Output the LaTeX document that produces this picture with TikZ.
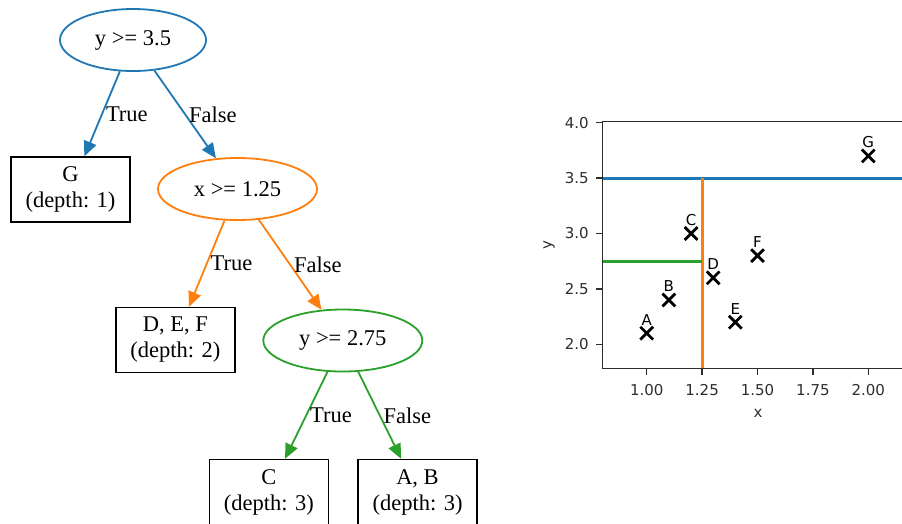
\documentclass[tikz,border=0pt]{standalone}
\usepackage{fontspec}
\setmainfont{Liberation Serif}
\newfontfamily\plotfont{DejaVu Sans}
\usepackage{tikz}
\usetikzlibrary{arrows.meta,shapes.geometric,shapes.misc}
\definecolor{splitblue}{RGB}{31,119,180}
\definecolor{splitorange}{RGB}{255,127,14}
\definecolor{splitgreen}{RGB}{44,160,44}
\definecolor{spine}{RGB}{45,45,45}

\begin{document}
\begin{tikzpicture}[x=1pt,y=-1pt,
  every node/.style={font=\fontsize{22.5}{26}\selectfont},
  test/.style={ellipse,draw,line width=1.8pt,inner sep=0pt,minimum width=159pt,minimum height=62pt},
  leaf/.style={draw=black,line width=1.4pt,align=center,inner sep=0pt,minimum width=119pt,minimum height=65pt},
  ar/.style={-{Triangle[length=15pt,width=13pt]},line width=1.8pt},
  lbl/.style={right,pos=0.5,inner sep=3pt,text=black},
  ticklab/.style={font=\plotfont\fontsize{15}{18}\selectfont,inner sep=0pt,text=spine},
  xmark/.style={cross out,draw=black,line width=2.8pt,minimum size=10pt,inner sep=0pt},
  split/.style={line width=3pt}]
\useasboundingbox (0,0) rectangle (902,523);
% decision tree
\node[test,draw=splitblue,minimum width=146pt] (n-root) at (133,40) {y >= 3.5};
\node[leaf] (n-g) at (70.5,189.5) {G\\(depth: 1)};
\node[test,draw=splitorange] (n-x) at (237.5,189) {x >= 1.25};
\node[leaf] (n-def) at (175.3,340) {D, E, F\\(depth: 2)};
\node[test,draw=splitgreen] (n-y) at (342.8,340.5) {y >= 2.75};
\node[leaf] (n-c) at (268.8,492) {C\\(depth: 3)};
\node[leaf] (n-ab) at (417.5,492) {A, B\\(depth: 3)};
\draw[ar,draw=splitblue] (n-root) -- node[lbl]{True} (n-g);
\draw[ar,draw=splitblue] (n-root) -- node[lbl]{False} (n-x);
\draw[ar,draw=splitorange] (n-x) -- node[lbl]{True} (n-def);
\draw[ar,draw=splitorange] (n-x) -- node[lbl]{False} (n-y);
\draw[ar,draw=splitgreen] (n-y) -- node[lbl]{True} (n-c);
\draw[ar,draw=splitgreen] (n-y) -- node[lbl]{False} (n-ab);
% scatter plot with the splits
\begin{scope}[shift={(425.1,565.9)},x=221.6pt,y=110.8pt]
  \coordinate (ax-bl) at (0.8,1.78);
  \coordinate (ax-tl) at (0.8,4.01);
  \coordinate (ax-tr) at (2.16,4.01);
  \coordinate (ax-br) at (2.16,1.78);
  \draw[split,splitblue] (0.8,3.5) -- (2.16,3.5);
  \draw[split,splitorange] (1.25,3.5) -- (1.25,1.78);
  \draw[split,splitgreen] (0.8,2.75) -- (1.25,2.75);
  \foreach \n/\px/\py in {A/1.0/2.1,B/1.1/2.4,C/1.2/3.0,D/1.3/2.6,E/1.4/2.2,F/1.5/2.8,G/2.0/3.7} {
    \node[xmark] (pt-\n) at (\px,\py) {};
    \node[ticklab,anchor=base,text=black] (lbl-\n) at ([yshift=8pt]pt-\n.center) {\n};
  }
  \draw[spine,line width=1.6pt] (ax-tr) -- (ax-tl) -- (ax-bl) -- (ax-br);
  \foreach \v in {2.0,2.5,3.0,3.5,4.0}
    \draw[spine,line width=1.4pt] (0.8,\v) -- ++(-6pt,0) node[ticklab,left=7pt] {\v};
  \foreach \v in {1.00,1.25,1.50,1.75,2.00}
    \draw[spine,line width=1.4pt] (\v,1.78) -- ++(0,-6pt) node[ticklab,below=9pt] {\v};
\end{scope}
\node[ticklab] (x-lab) at (758,413) {x};
\node[ticklab,rotate=90] (y-lab) at (549,245) {y};
\end{tikzpicture}
\end{document}
